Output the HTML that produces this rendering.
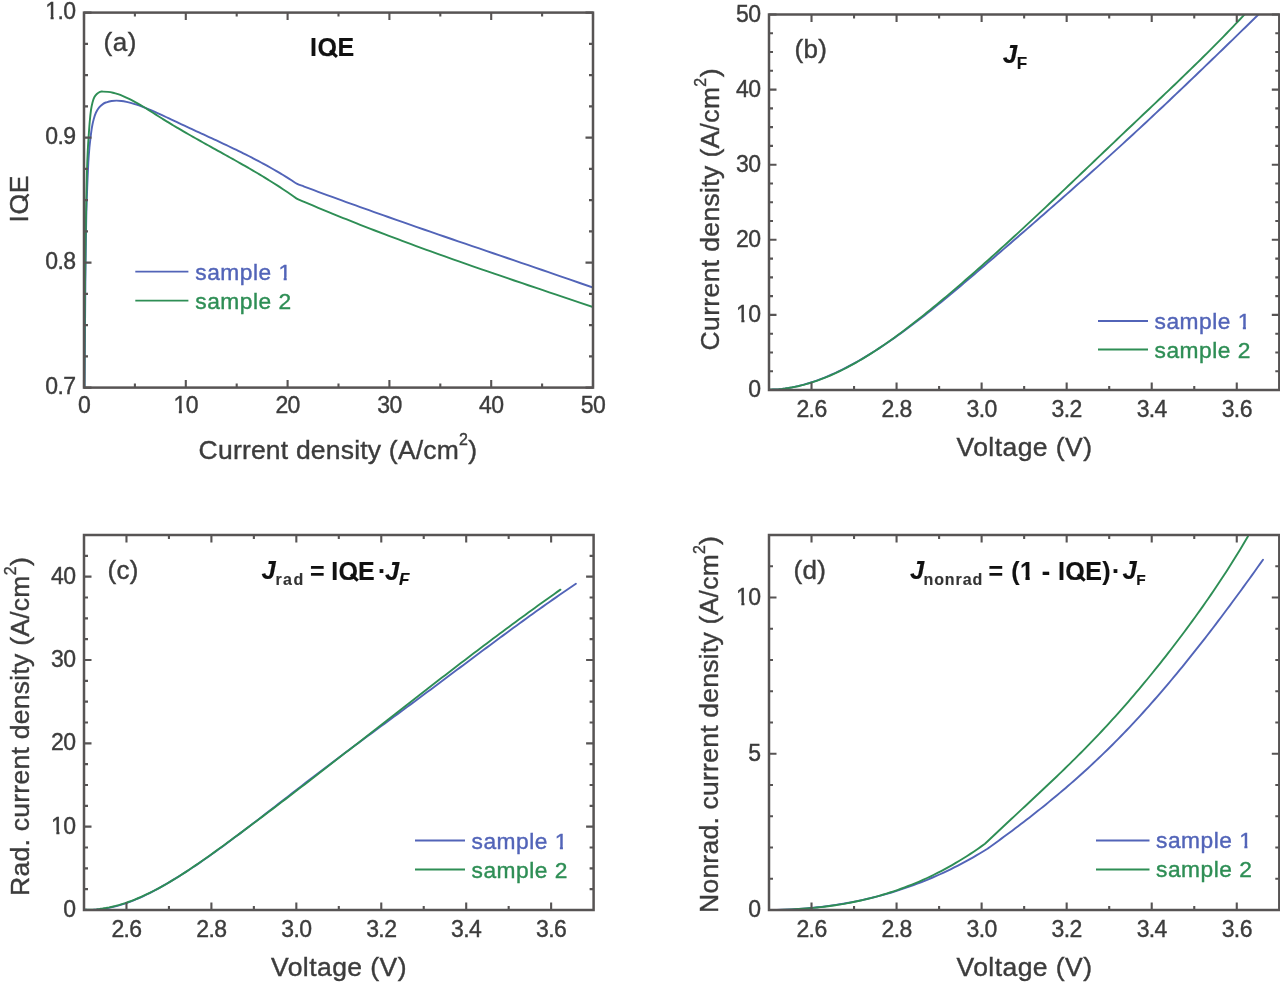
<!DOCTYPE html>
<html><head><meta charset="utf-8"><title>IQE plots</title>
<style>
html,body{margin:0;padding:0;background:#fff;overflow:hidden;}
svg{display:block;filter:blur(0.45px);}
text{font-family:"Liberation Sans", sans-serif;}
</style></head><body>
<svg width="1280" height="986" viewBox="0 0 1280 986">
<defs><clipPath id="clipA"><rect x="84.00" y="12.60" width="509.00" height="375.00"/></clipPath><clipPath id="clipB"><rect x="769.00" y="14.50" width="510.30" height="375.50"/></clipPath><clipPath id="clipC"><rect x="84.00" y="535.00" width="509.60" height="375.00"/></clipPath><clipPath id="clipD"><rect x="769.00" y="535.00" width="510.30" height="375.00"/></clipPath></defs>
<g clip-path="url(#clipA)">
<path d="M84.60,388.00 C84.67,378.33 84.87,348.00 85.00,330.00 C85.13,312.00 85.25,295.00 85.40,280.00 C85.55,265.00 85.73,251.33 85.90,240.00 C86.07,228.67 86.18,220.67 86.40,212.00 C86.62,203.33 86.88,196.17 87.20,188.00 C87.52,179.83 87.93,169.67 88.30,163.00 C88.67,156.33 89.02,152.32 89.40,148.00 C89.78,143.68 90.17,140.60 90.60,137.10 C91.03,133.60 91.48,129.98 92.00,127.00 C92.52,124.02 93.03,121.62 93.70,119.20 C94.37,116.78 95.08,114.47 96.00,112.50 C96.92,110.53 97.95,108.88 99.20,107.40 C100.45,105.92 102.28,104.45 103.50,103.60 C104.72,102.75 105.17,102.73 106.50,102.30 C107.83,101.86 109.83,101.28 111.50,101.00 C113.17,100.72 114.83,100.63 116.50,100.62 C118.17,100.62 119.83,100.77 121.50,100.99 C123.17,101.20 124.83,101.53 126.50,101.90 C128.17,102.26 129.83,102.70 131.50,103.16 C133.17,103.63 134.83,104.14 136.50,104.68 C138.17,105.23 139.83,105.81 141.50,106.42 C143.17,107.03 144.83,107.67 146.50,108.34 C148.17,109.01 149.83,109.70 151.50,110.41 C153.17,111.13 154.83,111.86 156.50,112.61 C158.17,113.36 159.83,114.13 161.50,114.90 C163.17,115.67 164.83,116.46 166.50,117.24 C168.17,118.03 169.83,118.83 171.50,119.62 C173.17,120.41 174.83,121.20 176.50,121.98 C178.17,122.77 179.83,123.55 181.50,124.33 C183.17,125.11 184.83,125.88 186.50,126.65 C188.17,127.43 189.83,128.20 191.50,128.96 C193.17,129.73 194.83,130.50 196.50,131.27 C198.17,132.03 199.83,132.80 201.50,133.56 C203.17,134.33 204.83,135.09 206.50,135.86 C208.17,136.63 209.83,137.40 211.50,138.17 C213.17,138.94 214.83,139.71 216.50,140.48 C218.17,141.26 219.83,142.04 221.50,142.82 C223.17,143.60 224.83,144.38 226.50,145.17 C228.17,145.96 229.83,146.76 231.50,147.56 C233.17,148.36 234.83,149.16 236.50,149.97 C238.17,150.78 239.83,151.60 241.50,152.43 C243.17,153.25 244.83,154.08 246.50,154.92 C248.17,155.77 249.83,156.61 251.50,157.47 C253.17,158.33 254.83,159.19 256.50,160.07 C258.17,160.95 259.83,161.83 261.50,162.73 C263.17,163.63 264.83,164.53 266.50,165.45 C268.17,166.37 269.83,167.30 271.50,168.25 C273.17,169.19 274.83,170.15 276.50,171.12 C278.17,172.08 279.83,173.07 281.50,174.06 C283.17,175.06 284.83,176.07 286.50,177.10 C288.17,178.12 289.72,179.09 291.50,180.22 C293.28,181.36 295.08,182.85 297.20,183.90 C299.32,184.95 300.70,185.23 304.20,186.54 C307.70,187.85 313.53,190.04 318.20,191.77 C322.87,193.50 327.53,195.22 332.20,196.93 C336.87,198.64 341.53,200.34 346.20,202.03 C350.87,203.72 355.53,205.40 360.20,207.07 C364.87,208.75 369.53,210.41 374.20,212.07 C378.87,213.73 383.53,215.38 388.20,217.02 C392.87,218.67 397.53,220.30 402.20,221.93 C406.87,223.56 411.53,225.19 416.20,226.81 C420.87,228.43 425.53,230.05 430.20,231.66 C434.87,233.27 439.53,234.88 444.20,236.48 C448.87,238.09 453.53,239.69 458.20,241.29 C462.87,242.89 467.53,244.48 472.20,246.08 C476.87,247.67 481.53,249.27 486.20,250.86 C490.87,252.45 495.53,254.05 500.20,255.64 C504.87,257.23 509.53,258.83 514.20,260.42 C518.87,262.02 523.53,263.61 528.20,265.21 C532.87,266.81 537.53,268.41 542.20,270.01 C546.87,271.61 551.53,273.22 556.20,274.83 C560.87,276.44 564.07,277.54 570.20,279.67 C576.33,281.80 589.20,286.29 593.00,287.62" stroke="#5264b8" stroke-width="1.9" fill="none" stroke-linejoin="round"/>
<path d="M84.30,388.00 C84.37,378.33 84.57,348.00 84.70,330.00 C84.83,312.00 84.95,295.00 85.10,280.00 C85.25,265.00 85.40,253.33 85.60,240.00 C85.80,226.67 86.07,211.67 86.30,200.00 C86.53,188.33 86.75,178.33 87.00,170.00 C87.25,161.67 87.53,155.50 87.80,150.00 C88.07,144.50 88.28,141.67 88.60,137.00 C88.92,132.33 89.30,126.50 89.70,122.00 C90.10,117.50 90.53,113.25 91.00,110.00 C91.47,106.75 91.95,104.62 92.50,102.50 C93.05,100.38 93.58,98.72 94.30,97.30 C95.02,95.88 95.85,94.92 96.80,94.00 C97.75,93.08 98.97,92.20 100.00,91.80 C101.03,91.40 101.67,91.59 103.00,91.59 C104.33,91.60 106.33,91.64 108.00,91.83 C109.67,92.02 111.33,92.33 113.00,92.72 C114.67,93.11 116.33,93.60 118.00,94.16 C119.67,94.71 121.33,95.36 123.00,96.05 C124.67,96.74 126.33,97.51 128.00,98.30 C129.67,99.10 131.33,99.96 133.00,100.84 C134.67,101.72 136.33,102.65 138.00,103.60 C139.67,104.56 141.33,105.55 143.00,106.55 C144.67,107.55 146.33,108.58 148.00,109.62 C149.67,110.66 151.33,111.72 153.00,112.77 C154.67,113.82 156.33,114.89 158.00,115.94 C159.67,117.00 161.33,118.05 163.00,119.09 C164.67,120.13 166.33,121.16 168.00,122.18 C169.67,123.20 171.33,124.21 173.00,125.21 C174.67,126.21 176.33,127.20 178.00,128.18 C179.67,129.17 181.33,130.14 183.00,131.11 C184.67,132.08 186.33,133.04 188.00,134.00 C189.67,134.96 191.33,135.91 193.00,136.86 C194.67,137.80 196.33,138.74 198.00,139.68 C199.67,140.62 201.33,141.55 203.00,142.48 C204.67,143.42 206.33,144.34 208.00,145.27 C209.67,146.20 211.33,147.12 213.00,148.05 C214.67,148.97 216.33,149.89 218.00,150.82 C219.67,151.74 221.33,152.67 223.00,153.59 C224.67,154.52 226.33,155.44 228.00,156.37 C229.67,157.30 231.33,158.23 233.00,159.17 C234.67,160.10 236.33,161.04 238.00,161.98 C239.67,162.92 241.33,163.87 243.00,164.82 C244.67,165.77 246.33,166.73 248.00,167.69 C249.67,168.65 251.33,169.62 253.00,170.60 C254.67,171.58 256.33,172.56 258.00,173.55 C259.67,174.54 261.33,175.54 263.00,176.55 C264.67,177.56 266.33,178.58 268.00,179.61 C269.67,180.64 271.33,181.68 273.00,182.73 C274.67,183.78 276.33,184.85 278.00,185.92 C279.67,187.00 281.33,188.08 283.00,189.18 C284.67,190.28 286.33,191.40 288.00,192.52 C289.67,193.65 291.47,194.89 293.00,195.95 C294.53,197.01 295.33,197.91 297.20,198.90 C299.07,199.89 300.70,200.42 304.20,201.90 C307.70,203.38 313.53,205.85 318.20,207.80 C322.87,209.75 327.53,211.67 332.20,213.58 C336.87,215.49 341.53,217.37 346.20,219.24 C350.87,221.11 355.53,222.96 360.20,224.80 C364.87,226.63 369.53,228.44 374.20,230.24 C378.87,232.05 383.53,233.83 388.20,235.60 C392.87,237.37 397.53,239.12 402.20,240.86 C406.87,242.60 411.53,244.32 416.20,246.04 C420.87,247.75 425.53,249.45 430.20,251.14 C434.87,252.83 439.53,254.50 444.20,256.17 C448.87,257.84 453.53,259.49 458.20,261.14 C462.87,262.78 467.53,264.42 472.20,266.05 C476.87,267.68 481.53,269.30 486.20,270.91 C490.87,272.52 495.53,274.12 500.20,275.72 C504.87,277.32 509.53,278.91 514.20,280.50 C518.87,282.09 523.53,283.67 528.20,285.25 C532.87,286.83 537.53,288.40 542.20,289.97 C546.87,291.54 551.53,293.11 556.20,294.68 C560.87,296.24 564.07,297.32 570.20,299.37 C576.33,301.43 589.20,305.74 593.00,307.01" stroke="#2e8e55" stroke-width="1.9" fill="none" stroke-linejoin="round"/>
</g>
<path d="M84.00,387.60v-7.50 M84.00,12.60v7.50 M185.80,387.60v-7.50 M185.80,12.60v7.50 M287.60,387.60v-7.50 M287.60,12.60v7.50 M389.40,387.60v-7.50 M389.40,12.60v7.50 M491.20,387.60v-7.50 M491.20,12.60v7.50 M593.00,387.60v-7.50 M593.00,12.60v7.50 M134.90,387.60v-4.00 M134.90,12.60v4.00 M236.70,387.60v-4.00 M236.70,12.60v4.00 M338.50,387.60v-4.00 M338.50,12.60v4.00 M440.30,387.60v-4.00 M440.30,12.60v4.00 M542.10,387.60v-4.00 M542.10,12.60v4.00 M84.00,387.60h7.50 M593.00,387.60h-7.50 M84.00,262.60h7.50 M593.00,262.60h-7.50 M84.00,137.60h7.50 M593.00,137.60h-7.50 M84.00,12.60h7.50 M593.00,12.60h-7.50 M84.00,356.35h4.00 M593.00,356.35h-4.00 M84.00,325.10h4.00 M593.00,325.10h-4.00 M84.00,293.85h4.00 M593.00,293.85h-4.00 M84.00,231.35h4.00 M593.00,231.35h-4.00 M84.00,200.10h4.00 M593.00,200.10h-4.00 M84.00,168.85h4.00 M593.00,168.85h-4.00 M84.00,106.35h4.00 M593.00,106.35h-4.00 M84.00,75.10h4.00 M593.00,75.10h-4.00 M84.00,43.85h4.00 M593.00,43.85h-4.00" stroke="#575454" stroke-width="2.1" fill="none"/>
<rect x="84.00" y="12.60" width="509.00" height="375.00" stroke="#575454" stroke-width="2.50" fill="none"/>
<g transform="translate(84.00,412.50)"><text font-size="23.00" text-anchor="middle" letter-spacing="-0.60" fill="#3c3c3c" stroke="#3c3c3c" stroke-width="0.40">0</text></g>
<g transform="translate(185.80,412.50)"><text font-size="23.00" text-anchor="middle" letter-spacing="-0.60" fill="#3c3c3c" stroke="#3c3c3c" stroke-width="0.40">10</text><rect x="-11.64" y="-2.72" width="4.68" height="4.52" fill="#fff"/><rect x="-3.83" y="-2.72" width="4.50" height="4.52" fill="#fff"/></g>
<g transform="translate(287.60,412.50)"><text font-size="23.00" text-anchor="middle" letter-spacing="-0.60" fill="#3c3c3c" stroke="#3c3c3c" stroke-width="0.40">20</text></g>
<g transform="translate(389.40,412.50)"><text font-size="23.00" text-anchor="middle" letter-spacing="-0.60" fill="#3c3c3c" stroke="#3c3c3c" stroke-width="0.40">30</text></g>
<g transform="translate(491.20,412.50)"><text font-size="23.00" text-anchor="middle" letter-spacing="-0.60" fill="#3c3c3c" stroke="#3c3c3c" stroke-width="0.40">40</text></g>
<g transform="translate(593.00,412.50)"><text font-size="23.00" text-anchor="middle" letter-spacing="-0.60" fill="#3c3c3c" stroke="#3c3c3c" stroke-width="0.40">50</text></g>
<g transform="translate(75.50,393.80)"><text font-size="23.00" text-anchor="end" letter-spacing="-0.60" fill="#3c3c3c" stroke="#3c3c3c" stroke-width="0.40">0.7</text></g>
<g transform="translate(75.50,268.80)"><text font-size="23.00" text-anchor="end" letter-spacing="-0.60" fill="#3c3c3c" stroke="#3c3c3c" stroke-width="0.40">0.8</text></g>
<g transform="translate(75.50,143.80)"><text font-size="23.00" text-anchor="end" letter-spacing="-0.60" fill="#3c3c3c" stroke="#3c3c3c" stroke-width="0.40">0.9</text></g>
<g transform="translate(75.50,18.80)"><text font-size="23.00" text-anchor="end" letter-spacing="-0.60" fill="#3c3c3c" stroke="#3c3c3c" stroke-width="0.40">1.0</text><rect x="-29.64" y="-2.72" width="4.68" height="4.52" fill="#fff"/><rect x="-21.82" y="-2.72" width="4.50" height="4.52" fill="#fff"/></g>
<g transform="translate(337.90,458.50)"><text font-size="26.50" text-anchor="middle" letter-spacing="0.20" fill="#3c3c3c" stroke="#3c3c3c" stroke-width="0.40">Current density (A/cm<tspan font-size="16" dy="-13.5">2</tspan><tspan dy="13.5">)</tspan></text></g>
<g transform="translate(27.80,198.70) rotate(-90)"><text font-size="26.50" text-anchor="middle" letter-spacing="0.60" fill="#3c3c3c" stroke="#3c3c3c" stroke-width="0.40">IQE</text><rect x="-8.53" y="0.23" width="11.65" height="5.95" fill="#fff"/><path d="M-1.99,-5.17L4.50,0.79" stroke="#3c3c3c" stroke-width="2.25"/></g>
<g transform="translate(103.50,50.70)"><text font-size="26.00" letter-spacing="0.60" fill="#3c3c3c" stroke="#3c3c3c" stroke-width="0.40">(a)</text></g>
<g transform="translate(310.00,56.00)"><text font-size="25.00" font-weight="bold" letter-spacing="0.60" fill="#111" stroke="#111" stroke-width="0.15">IQE</text><rect x="14.37" y="0.22" width="10.99" height="5.62" fill="#fff"/><path d="M20.03,-5.38L26.91,0.88" stroke="#111" stroke-width="3.12"/></g>
<path d="M135.3,271.6H188.4" stroke="#5264b8" stroke-width="1.9"/>
<path d="M135.3,300.6H188.4" stroke="#2e8e55" stroke-width="1.9"/>
<g transform="translate(195.30,279.60)"><text font-size="22.75" letter-spacing="0.50" fill="#5264b8" stroke="#5264b8" stroke-width="0.40">sample 1</text><rect x="83.69" y="-2.70" width="4.64" height="4.50" fill="#fff"/><rect x="91.44" y="-2.70" width="4.46" height="4.50" fill="#fff"/></g>
<g transform="translate(195.30,308.60)"><text font-size="22.75" letter-spacing="0.50" fill="#2e8e55" stroke="#2e8e55" stroke-width="0.40">sample 2</text></g>
<g clip-path="url(#clipB)">
<path d="M769.00,389.60 L772.31,389.55 L775.62,389.40 L778.93,389.16 L782.23,388.84 L785.54,388.42 L788.85,387.92 L792.16,387.34 L795.47,386.67 L798.78,385.93 L802.09,385.10 L805.40,384.20 L808.70,383.23 L812.01,382.18 L815.32,381.07 L818.63,379.88 L821.94,378.63 L825.25,377.31 L828.56,375.93 L831.87,374.49 L835.17,372.99 L838.48,371.43 L841.79,369.82 L845.10,368.15 L848.41,366.43 L851.72,364.66 L855.03,362.84 L858.34,360.97 L861.64,359.06 L864.95,357.10 L868.26,355.10 L871.57,353.05 L874.88,350.96 L878.19,348.83 L881.50,346.67 L884.81,344.46 L888.11,342.21 L891.42,339.93 L894.73,337.62 L898.04,335.27 L901.35,332.89 L904.66,330.47 L907.97,328.03 L911.28,325.55 L914.58,323.05 L917.89,320.52 L921.20,317.96 L924.51,315.38 L927.82,312.78 L931.13,310.15 L934.44,307.50 L937.74,304.83 L941.05,302.14 L944.36,299.43 L947.67,296.71 L950.98,293.97 L954.29,291.22 L957.60,288.45 L960.91,285.67 L964.21,282.88 L967.52,280.07 L970.83,277.26 L974.14,274.44 L977.45,271.62 L980.76,268.79 L984.07,265.95 L987.38,263.11 L990.68,260.27 L993.99,257.43 L997.30,254.58 L1000.61,251.73 L1003.92,248.88 L1007.23,246.03 L1010.54,243.18 L1013.85,240.32 L1017.15,237.46 L1020.46,234.59 L1023.77,231.73 L1027.08,228.86 L1030.39,225.98 L1033.70,223.11 L1037.01,220.23 L1040.32,217.34 L1043.62,214.45 L1046.93,211.56 L1050.24,208.66 L1053.55,205.76 L1056.86,202.86 L1060.17,199.95 L1063.48,197.03 L1066.79,194.11 L1070.09,191.19 L1073.40,188.26 L1076.71,185.32 L1080.02,182.38 L1083.33,179.43 L1086.64,176.48 L1089.95,173.52 L1093.26,170.56 L1096.56,167.59 L1099.87,164.61 L1103.18,161.63 L1106.49,158.64 L1109.80,155.64 L1113.11,152.63 L1116.42,149.62 L1119.72,146.61 L1123.03,143.58 L1126.34,140.55 L1129.65,137.51 L1132.96,134.46 L1136.27,131.40 L1139.58,128.34 L1142.89,125.27 L1146.19,122.19 L1149.50,119.10 L1152.81,116.01 L1156.12,112.91 L1159.43,109.80 L1162.74,106.69 L1166.05,103.57 L1169.36,100.44 L1172.66,97.31 L1175.97,94.17 L1179.28,91.02 L1182.59,87.87 L1185.90,84.72 L1189.21,81.56 L1192.52,78.39 L1195.83,75.22 L1199.13,72.05 L1202.44,68.87 L1205.75,65.68 L1209.06,62.49 L1212.37,59.30 L1215.68,56.10 L1218.99,52.90 L1222.30,49.70 L1225.60,46.49 L1228.91,43.29 L1232.22,40.07 L1235.53,36.86 L1238.84,33.64 L1242.15,30.42 L1245.46,27.20 L1248.77,23.97 L1252.07,20.74 L1255.38,17.52 L1258.69,14.29 L1262.00,11.05" stroke="#5264b8" stroke-width="1.90" fill="none" stroke-linejoin="round" stroke-linecap="round"/>
<path d="M769.00,389.59 L772.22,389.53 L775.44,389.40 L778.66,389.18 L781.89,388.88 L785.11,388.50 L788.33,388.04 L791.55,387.50 L794.77,386.89 L797.99,386.21 L801.21,385.45 L804.44,384.62 L807.66,383.71 L810.88,382.74 L814.10,381.70 L817.32,380.60 L820.54,379.42 L823.77,378.19 L826.99,376.89 L830.21,375.53 L833.43,374.11 L836.65,372.63 L839.87,371.09 L843.09,369.50 L846.32,367.85 L849.54,366.15 L852.76,364.39 L855.98,362.59 L859.20,360.73 L862.42,358.83 L865.64,356.88 L868.87,354.88 L872.09,352.84 L875.31,350.75 L878.53,348.63 L881.75,346.46 L884.97,344.25 L888.19,342.01 L891.42,339.73 L894.64,337.41 L897.86,335.06 L901.08,332.68 L904.30,330.26 L907.52,327.82 L910.74,325.35 L913.97,322.84 L917.19,320.32 L920.41,317.76 L923.63,315.19 L926.85,312.59 L930.07,309.97 L933.30,307.33 L936.52,304.67 L939.74,302.00 L942.96,299.31 L946.18,296.61 L949.40,293.88 L952.62,291.15 L955.85,288.40 L959.07,285.64 L962.29,282.86 L965.51,280.07 L968.73,277.26 L971.95,274.45 L975.17,271.62 L978.40,268.77 L981.62,265.92 L984.84,263.06 L988.06,260.18 L991.28,257.29 L994.50,254.39 L997.72,251.49 L1000.95,248.57 L1004.17,245.64 L1007.39,242.70 L1010.61,239.76 L1013.83,236.80 L1017.05,233.84 L1020.28,230.87 L1023.50,227.89 L1026.72,224.90 L1029.94,221.90 L1033.16,218.90 L1036.38,215.90 L1039.60,212.88 L1042.83,209.86 L1046.05,206.84 L1049.27,203.81 L1052.49,200.77 L1055.71,197.73 L1058.93,194.69 L1062.15,191.64 L1065.38,188.59 L1068.60,185.53 L1071.82,182.47 L1075.04,179.41 L1078.26,176.35 L1081.48,173.28 L1084.70,170.21 L1087.93,167.14 L1091.15,164.07 L1094.37,161.00 L1097.59,157.93 L1100.81,154.86 L1104.03,151.78 L1107.26,148.71 L1110.48,145.64 L1113.70,142.57 L1116.92,139.50 L1120.14,136.43 L1123.36,133.37 L1126.58,130.31 L1129.81,127.25 L1133.03,124.19 L1136.25,121.14 L1139.47,118.08 L1142.69,115.03 L1145.91,111.99 L1149.13,108.94 L1152.36,105.89 L1155.58,102.84 L1158.80,99.79 L1162.02,96.73 L1165.24,93.67 L1168.46,90.60 L1171.68,87.53 L1174.91,84.45 L1178.13,81.36 L1181.35,78.27 L1184.57,75.16 L1187.79,72.05 L1191.01,68.92 L1194.23,65.78 L1197.46,62.62 L1200.68,59.46 L1203.90,56.27 L1207.12,53.07 L1210.34,49.86 L1213.56,46.62 L1216.79,43.37 L1220.01,40.10 L1223.23,36.80 L1226.45,33.49 L1229.67,30.15 L1232.89,26.79 L1236.11,23.41 L1239.34,20.00 L1242.56,16.56 L1245.78,13.10 L1249.00,9.61" stroke="#2e8e55" stroke-width="1.90" fill="none" stroke-linejoin="round" stroke-linecap="round"/>
</g>
<path d="M811.52,390.00v-7.50 M811.52,14.50v7.50 M896.57,390.00v-7.50 M896.57,14.50v7.50 M981.62,390.00v-7.50 M981.62,14.50v7.50 M1066.67,390.00v-7.50 M1066.67,14.50v7.50 M1151.72,390.00v-7.50 M1151.72,14.50v7.50 M1236.77,390.00v-7.50 M1236.77,14.50v7.50 M854.05,390.00v-4.00 M854.05,14.50v4.00 M939.10,390.00v-4.00 M939.10,14.50v4.00 M1024.15,390.00v-4.00 M1024.15,14.50v4.00 M1109.20,390.00v-4.00 M1109.20,14.50v4.00 M1194.25,390.00v-4.00 M1194.25,14.50v4.00 M769.00,390.00h7.50 M1279.30,390.00h-7.50 M769.00,314.90h7.50 M1279.30,314.90h-7.50 M769.00,239.80h7.50 M1279.30,239.80h-7.50 M769.00,164.70h7.50 M1279.30,164.70h-7.50 M769.00,89.60h7.50 M1279.30,89.60h-7.50 M769.00,14.50h7.50 M1279.30,14.50h-7.50 M769.00,371.23h4.00 M1279.30,371.23h-4.00 M769.00,352.45h4.00 M1279.30,352.45h-4.00 M769.00,333.68h4.00 M1279.30,333.68h-4.00 M769.00,296.12h4.00 M1279.30,296.12h-4.00 M769.00,277.35h4.00 M1279.30,277.35h-4.00 M769.00,258.58h4.00 M1279.30,258.58h-4.00 M769.00,221.03h4.00 M1279.30,221.03h-4.00 M769.00,202.25h4.00 M1279.30,202.25h-4.00 M769.00,183.47h4.00 M1279.30,183.47h-4.00 M769.00,145.92h4.00 M1279.30,145.92h-4.00 M769.00,127.15h4.00 M1279.30,127.15h-4.00 M769.00,108.38h4.00 M1279.30,108.38h-4.00 M769.00,70.82h4.00 M1279.30,70.82h-4.00 M769.00,52.05h4.00 M1279.30,52.05h-4.00 M769.00,33.28h4.00 M1279.30,33.28h-4.00" stroke="#575454" stroke-width="2.1" fill="none"/>
<rect x="769.00" y="14.50" width="510.30" height="375.50" stroke="#575454" stroke-width="2.50" fill="none"/>
<g transform="translate(811.52,416.50)"><text font-size="23.00" text-anchor="middle" letter-spacing="-0.60" fill="#3c3c3c" stroke="#3c3c3c" stroke-width="0.40">2.6</text></g>
<g transform="translate(896.57,416.50)"><text font-size="23.00" text-anchor="middle" letter-spacing="-0.60" fill="#3c3c3c" stroke="#3c3c3c" stroke-width="0.40">2.8</text></g>
<g transform="translate(981.62,416.50)"><text font-size="23.00" text-anchor="middle" letter-spacing="-0.60" fill="#3c3c3c" stroke="#3c3c3c" stroke-width="0.40">3.0</text></g>
<g transform="translate(1066.67,416.50)"><text font-size="23.00" text-anchor="middle" letter-spacing="-0.60" fill="#3c3c3c" stroke="#3c3c3c" stroke-width="0.40">3.2</text></g>
<g transform="translate(1151.72,416.50)"><text font-size="23.00" text-anchor="middle" letter-spacing="-0.60" fill="#3c3c3c" stroke="#3c3c3c" stroke-width="0.40">3.4</text></g>
<g transform="translate(1236.77,416.50)"><text font-size="23.00" text-anchor="middle" letter-spacing="-0.60" fill="#3c3c3c" stroke="#3c3c3c" stroke-width="0.40">3.6</text></g>
<g transform="translate(760.50,397.00)"><text font-size="23.00" text-anchor="end" letter-spacing="-0.60" fill="#3c3c3c" stroke="#3c3c3c" stroke-width="0.40">0</text></g>
<g transform="translate(760.50,321.90)"><text font-size="23.00" text-anchor="end" letter-spacing="-0.60" fill="#3c3c3c" stroke="#3c3c3c" stroke-width="0.40">10</text><rect x="-23.84" y="-2.72" width="4.68" height="4.52" fill="#fff"/><rect x="-16.02" y="-2.72" width="4.50" height="4.52" fill="#fff"/></g>
<g transform="translate(760.50,246.80)"><text font-size="23.00" text-anchor="end" letter-spacing="-0.60" fill="#3c3c3c" stroke="#3c3c3c" stroke-width="0.40">20</text></g>
<g transform="translate(760.50,171.70)"><text font-size="23.00" text-anchor="end" letter-spacing="-0.60" fill="#3c3c3c" stroke="#3c3c3c" stroke-width="0.40">30</text></g>
<g transform="translate(760.50,96.60)"><text font-size="23.00" text-anchor="end" letter-spacing="-0.60" fill="#3c3c3c" stroke="#3c3c3c" stroke-width="0.40">40</text></g>
<g transform="translate(760.50,21.50)"><text font-size="23.00" text-anchor="end" letter-spacing="-0.60" fill="#3c3c3c" stroke="#3c3c3c" stroke-width="0.40">50</text></g>
<g transform="translate(1024.50,456.30)"><text font-size="26.50" text-anchor="middle" letter-spacing="0.45" fill="#3c3c3c" stroke="#3c3c3c" stroke-width="0.40">Voltage (V)</text></g>
<g transform="translate(719.30,209.30) rotate(-90)"><text font-size="26.50" text-anchor="middle" letter-spacing="0.36" fill="#3c3c3c" stroke="#3c3c3c" stroke-width="0.40">Current density (A/cm<tspan font-size="16" dy="-13.5">2</tspan><tspan dy="13.5">)</tspan></text></g>
<g transform="translate(794.50,57.80)"><text font-size="26.00" letter-spacing="0.30" fill="#3c3c3c" stroke="#3c3c3c" stroke-width="0.40">(b)</text></g>
<g transform="translate(1002.70,63.00)"><text font-size="26.00" font-weight="bold" font-style="italic" fill="#111" stroke="#111" stroke-width="0.15">J</text></g>
<g transform="translate(1016.80,68.60)"><text font-size="17.00" font-weight="bold" fill="#111" stroke="#111" stroke-width="0.15">F</text></g>
<path d="M1098,321H1148" stroke="#5264b8" stroke-width="1.9"/>
<path d="M1098,349.5H1148" stroke="#2e8e55" stroke-width="1.9"/>
<g transform="translate(1154.50,329.00)"><text font-size="22.75" letter-spacing="0.50" fill="#5264b8" stroke="#5264b8" stroke-width="0.40">sample 1</text><rect x="83.69" y="-2.70" width="4.64" height="4.50" fill="#fff"/><rect x="91.44" y="-2.70" width="4.46" height="4.50" fill="#fff"/></g>
<g transform="translate(1154.50,357.50)"><text font-size="22.75" letter-spacing="0.50" fill="#2e8e55" stroke="#2e8e55" stroke-width="0.40">sample 2</text></g>
<g clip-path="url(#clipC)">
<path d="M83.50,909.68 L86.80,909.82 L90.11,909.85 L93.41,909.76 L96.72,909.55 L100.02,909.24 L103.33,908.82 L106.63,908.29 L109.94,907.66 L113.24,906.93 L116.55,906.11 L119.85,905.18 L123.16,904.17 L126.46,903.06 L129.77,901.87 L133.07,900.59 L136.38,899.23 L139.68,897.79 L142.98,896.28 L146.29,894.70 L149.59,893.06 L152.90,891.36 L156.20,889.60 L159.51,887.80 L162.81,885.95 L166.12,884.06 L169.42,882.13 L172.73,880.15 L176.03,878.14 L179.34,876.09 L182.64,874.01 L185.95,871.89 L189.25,869.74 L192.56,867.55 L195.86,865.34 L199.16,863.10 L202.47,860.82 L205.77,858.53 L209.08,856.20 L212.38,853.85 L215.69,851.48 L218.99,849.09 L222.30,846.68 L225.60,844.25 L228.91,841.80 L232.21,839.34 L235.52,836.86 L238.82,834.37 L242.13,831.87 L245.43,829.35 L248.73,826.83 L252.04,824.30 L255.34,821.76 L258.65,819.22 L261.95,816.67 L265.26,814.11 L268.56,811.55 L271.87,808.99 L275.17,806.43 L278.48,803.86 L281.78,801.29 L285.09,798.73 L288.39,796.16 L291.70,793.59 L295.00,791.03 L298.31,788.47 L301.61,785.91 L304.91,783.36 L308.22,780.81 L311.52,778.27 L314.83,775.73 L318.13,773.20 L321.44,770.68 L324.74,768.17 L328.05,765.67 L331.35,763.17 L334.66,760.68 L337.96,758.19 L341.27,755.72 L344.57,753.24 L347.88,750.78 L351.18,748.32 L354.49,745.86 L357.79,743.40 L361.09,740.95 L364.40,738.51 L367.70,736.06 L371.01,733.62 L374.31,731.19 L377.62,728.75 L380.92,726.31 L384.23,723.88 L387.53,721.44 L390.84,719.01 L394.14,716.57 L397.45,714.14 L400.75,711.70 L404.06,709.26 L407.36,706.82 L410.67,704.38 L413.97,701.93 L417.27,699.48 L420.58,697.03 L423.88,694.57 L427.19,692.11 L430.49,689.65 L433.80,687.18 L437.10,684.71 L440.41,682.24 L443.71,679.76 L447.02,677.29 L450.32,674.81 L453.63,672.34 L456.93,669.86 L460.24,667.38 L463.54,664.91 L466.84,662.43 L470.15,659.96 L473.45,657.48 L476.76,655.01 L480.06,652.55 L483.37,650.08 L486.67,647.62 L489.98,645.16 L493.28,642.71 L496.59,640.26 L499.89,637.81 L503.20,635.37 L506.50,632.94 L509.81,630.51 L513.11,628.09 L516.42,625.67 L519.72,623.26 L523.02,620.86 L526.33,618.47 L529.63,616.09 L532.94,613.71 L536.24,611.34 L539.55,608.98 L542.85,606.64 L546.16,604.30 L549.46,601.97 L552.77,599.65 L556.07,597.35 L559.38,595.06 L562.68,592.77 L565.99,590.50 L569.29,588.25 L572.60,586.01 L575.90,583.78" stroke="#5264b8" stroke-width="1.90" fill="none" stroke-linejoin="round" stroke-linecap="round"/>
<path d="M83.50,909.74 L86.70,909.79 L89.90,909.73 L93.10,909.58 L96.30,909.33 L99.50,908.99 L102.70,908.55 L105.90,908.02 L109.11,907.41 L112.31,906.70 L115.51,905.92 L118.71,905.05 L121.91,904.10 L125.11,903.08 L128.31,901.98 L131.51,900.81 L134.71,899.56 L137.91,898.25 L141.11,896.87 L144.31,895.43 L147.51,893.93 L150.71,892.36 L153.91,890.74 L157.12,889.06 L160.32,887.33 L163.52,885.55 L166.72,883.72 L169.92,881.85 L173.12,879.92 L176.32,877.96 L179.52,875.96 L182.72,873.91 L185.92,871.84 L189.12,869.72 L192.32,867.58 L195.52,865.41 L198.72,863.21 L201.92,860.99 L205.13,858.74 L208.33,856.47 L211.53,854.19 L214.73,851.89 L217.93,849.57 L221.13,847.25 L224.33,844.91 L227.53,842.57 L230.73,840.22 L233.93,837.86 L237.13,835.50 L240.33,833.13 L243.53,830.75 L246.73,828.37 L249.93,825.98 L253.14,823.59 L256.34,821.19 L259.54,818.79 L262.74,816.38 L265.94,813.96 L269.14,811.55 L272.34,809.12 L275.54,806.69 L278.74,804.26 L281.94,801.82 L285.14,799.38 L288.34,796.93 L291.54,794.48 L294.74,792.03 L297.94,789.57 L301.15,787.11 L304.35,784.65 L307.55,782.18 L310.75,779.71 L313.95,777.24 L317.15,774.76 L320.35,772.28 L323.55,769.80 L326.75,767.32 L329.95,764.83 L333.15,762.34 L336.35,759.85 L339.55,757.36 L342.75,754.87 L345.96,752.37 L349.16,749.88 L352.36,747.38 L355.56,744.88 L358.76,742.38 L361.96,739.89 L365.16,737.39 L368.36,734.88 L371.56,732.38 L374.76,729.88 L377.96,727.38 L381.16,724.88 L384.36,722.38 L387.56,719.88 L390.76,717.38 L393.97,714.88 L397.17,712.39 L400.37,709.89 L403.57,707.39 L406.77,704.90 L409.97,702.41 L413.17,699.92 L416.37,697.43 L419.57,694.94 L422.77,692.45 L425.97,689.97 L429.17,687.49 L432.37,685.01 L435.57,682.54 L438.77,680.06 L441.98,677.59 L445.18,675.13 L448.38,672.66 L451.58,670.20 L454.78,667.75 L457.98,665.30 L461.18,662.85 L464.38,660.40 L467.58,657.96 L470.78,655.52 L473.98,653.09 L477.18,650.66 L480.38,648.24 L483.58,645.82 L486.78,643.41 L489.99,641.00 L493.19,638.60 L496.39,636.20 L499.59,633.81 L502.79,631.43 L505.99,629.05 L509.19,626.67 L512.39,624.30 L515.59,621.94 L518.79,619.59 L521.99,617.24 L525.19,614.90 L528.39,612.56 L531.59,610.23 L534.79,607.91 L538.00,605.60 L541.20,603.30 L544.40,601.00 L547.60,598.71 L550.80,596.42 L554.00,594.15 L557.20,591.88 L560.40,589.63" stroke="#2e8e55" stroke-width="1.90" fill="none" stroke-linejoin="round" stroke-linecap="round"/>
</g>
<path d="M126.47,910.00v-7.50 M126.47,535.00v7.50 M211.40,910.00v-7.50 M211.40,535.00v7.50 M296.33,910.00v-7.50 M296.33,535.00v7.50 M381.27,910.00v-7.50 M381.27,535.00v7.50 M466.20,910.00v-7.50 M466.20,535.00v7.50 M551.13,910.00v-7.50 M551.13,535.00v7.50 M168.93,910.00v-4.00 M168.93,535.00v4.00 M253.87,910.00v-4.00 M253.87,535.00v4.00 M338.80,910.00v-4.00 M338.80,535.00v4.00 M423.73,910.00v-4.00 M423.73,535.00v4.00 M508.67,910.00v-4.00 M508.67,535.00v4.00 M84.00,910.00h7.50 M593.60,910.00h-7.50 M84.00,826.67h7.50 M593.60,826.67h-7.50 M84.00,743.33h7.50 M593.60,743.33h-7.50 M84.00,660.00h7.50 M593.60,660.00h-7.50 M84.00,576.67h7.50 M593.60,576.67h-7.50 M84.00,889.17h4.00 M593.60,889.17h-4.00 M84.00,868.33h4.00 M593.60,868.33h-4.00 M84.00,847.50h4.00 M593.60,847.50h-4.00 M84.00,805.83h4.00 M593.60,805.83h-4.00 M84.00,785.00h4.00 M593.60,785.00h-4.00 M84.00,764.17h4.00 M593.60,764.17h-4.00 M84.00,722.50h4.00 M593.60,722.50h-4.00 M84.00,701.67h4.00 M593.60,701.67h-4.00 M84.00,680.83h4.00 M593.60,680.83h-4.00 M84.00,639.17h4.00 M593.60,639.17h-4.00 M84.00,618.33h4.00 M593.60,618.33h-4.00 M84.00,597.50h4.00 M593.60,597.50h-4.00 M84.00,555.83h4.00 M593.60,555.83h-4.00" stroke="#575454" stroke-width="2.1" fill="none"/>
<rect x="84.00" y="535.00" width="509.60" height="375.00" stroke="#575454" stroke-width="2.50" fill="none"/>
<g transform="translate(126.47,936.50)"><text font-size="23.00" text-anchor="middle" letter-spacing="-0.60" fill="#3c3c3c" stroke="#3c3c3c" stroke-width="0.40">2.6</text></g>
<g transform="translate(211.40,936.50)"><text font-size="23.00" text-anchor="middle" letter-spacing="-0.60" fill="#3c3c3c" stroke="#3c3c3c" stroke-width="0.40">2.8</text></g>
<g transform="translate(296.33,936.50)"><text font-size="23.00" text-anchor="middle" letter-spacing="-0.60" fill="#3c3c3c" stroke="#3c3c3c" stroke-width="0.40">3.0</text></g>
<g transform="translate(381.27,936.50)"><text font-size="23.00" text-anchor="middle" letter-spacing="-0.60" fill="#3c3c3c" stroke="#3c3c3c" stroke-width="0.40">3.2</text></g>
<g transform="translate(466.20,936.50)"><text font-size="23.00" text-anchor="middle" letter-spacing="-0.60" fill="#3c3c3c" stroke="#3c3c3c" stroke-width="0.40">3.4</text></g>
<g transform="translate(551.13,936.50)"><text font-size="23.00" text-anchor="middle" letter-spacing="-0.60" fill="#3c3c3c" stroke="#3c3c3c" stroke-width="0.40">3.6</text></g>
<g transform="translate(75.50,917.00)"><text font-size="23.00" text-anchor="end" letter-spacing="-0.60" fill="#3c3c3c" stroke="#3c3c3c" stroke-width="0.40">0</text></g>
<g transform="translate(75.50,833.67)"><text font-size="23.00" text-anchor="end" letter-spacing="-0.60" fill="#3c3c3c" stroke="#3c3c3c" stroke-width="0.40">10</text><rect x="-23.84" y="-2.72" width="4.68" height="4.52" fill="#fff"/><rect x="-16.02" y="-2.72" width="4.50" height="4.52" fill="#fff"/></g>
<g transform="translate(75.50,750.33)"><text font-size="23.00" text-anchor="end" letter-spacing="-0.60" fill="#3c3c3c" stroke="#3c3c3c" stroke-width="0.40">20</text></g>
<g transform="translate(75.50,667.00)"><text font-size="23.00" text-anchor="end" letter-spacing="-0.60" fill="#3c3c3c" stroke="#3c3c3c" stroke-width="0.40">30</text></g>
<g transform="translate(75.50,583.67)"><text font-size="23.00" text-anchor="end" letter-spacing="-0.60" fill="#3c3c3c" stroke="#3c3c3c" stroke-width="0.40">40</text></g>
<g transform="translate(339.00,976.30)"><text font-size="26.50" text-anchor="middle" letter-spacing="0.45" fill="#3c3c3c" stroke="#3c3c3c" stroke-width="0.40">Voltage (V)</text></g>
<g transform="translate(29.00,726.50) rotate(-90)"><text font-size="26.50" text-anchor="middle" letter-spacing="0.27" fill="#3c3c3c" stroke="#3c3c3c" stroke-width="0.40">Rad. current density (A/cm<tspan font-size="16" dy="-13.5">2</tspan><tspan dy="13.5">)</tspan></text></g>
<g transform="translate(107.50,579.20)"><text font-size="26.00" letter-spacing="0.30" fill="#3c3c3c" stroke="#3c3c3c" stroke-width="0.40">(c)</text></g>
<g transform="translate(261.50,579.40)"><text font-size="25.50" font-weight="bold" font-style="italic" fill="#111" stroke="#111" stroke-width="0.15">J</text></g>
<g transform="translate(275.40,584.80)"><text font-size="16.00" font-weight="bold" letter-spacing="1.45" fill="#333" stroke="#333" stroke-width="0.15">rad</text></g>
<g transform="translate(310.00,579.70)"><text font-size="25.00" font-weight="bold" fill="#111" stroke="#111" stroke-width="0.15">=</text></g>
<g transform="translate(331.30,579.70)"><text font-size="25.00" font-weight="bold" letter-spacing="0.20" fill="#111" stroke="#111" stroke-width="0.15">IQE</text><rect x="13.98" y="0.22" width="10.99" height="5.62" fill="#fff"/><path d="M19.64,-5.38L26.52,0.88" stroke="#111" stroke-width="3.12"/></g>
<g transform="translate(377.90,579.50)"><text font-size="25.00" font-weight="bold" fill="#111" stroke="#111" stroke-width="0.15">·</text></g>
<g transform="translate(385.00,579.70)"><text font-size="25.50" font-weight="bold" font-style="italic" fill="#111" stroke="#111" stroke-width="0.15">J</text></g>
<g transform="translate(399.00,585.20)"><text font-size="17.00" font-weight="bold" font-style="italic" fill="#111" stroke="#111" stroke-width="0.15">F</text></g>
<path d="M415,840.5H465" stroke="#5264b8" stroke-width="1.9"/>
<path d="M415,869.5H465" stroke="#2e8e55" stroke-width="1.9"/>
<g transform="translate(471.50,848.50)"><text font-size="22.75" letter-spacing="0.50" fill="#5264b8" stroke="#5264b8" stroke-width="0.40">sample 1</text><rect x="83.69" y="-2.70" width="4.64" height="4.50" fill="#fff"/><rect x="91.44" y="-2.70" width="4.46" height="4.50" fill="#fff"/></g>
<g transform="translate(471.50,877.50)"><text font-size="22.75" letter-spacing="0.50" fill="#2e8e55" stroke="#2e8e55" stroke-width="0.40">sample 2</text></g>
<g clip-path="url(#clipD)">
<path d="M769.50,910.00 L773.19,909.95 L776.89,909.88 L780.58,909.78 L784.28,909.66 L787.97,909.51 L791.67,909.33 L795.36,909.12 L799.06,908.89 L802.75,908.62 L806.45,908.33 L810.14,908.01 L813.84,907.65 L817.53,907.27 L821.23,906.86 L824.92,906.41 L828.62,905.93 L832.31,905.42 L836.01,904.88 L839.70,904.30 L843.40,903.69 L847.09,903.05 L850.79,902.37 L854.48,901.66 L858.18,900.91 L861.87,900.12 L865.57,899.30 L869.26,898.44 L872.96,897.54 L876.65,896.61 L880.35,895.64 L884.04,894.62 L887.74,893.57 L891.43,892.48 L895.13,891.35 L898.82,890.18 L902.52,888.97 L906.21,887.72 L909.91,886.42 L913.60,885.09 L917.30,883.71 L920.99,882.28 L924.69,880.82 L928.38,879.30 L932.08,877.75 L935.77,876.15 L939.47,874.50 L943.16,872.81 L946.86,871.07 L950.55,869.29 L954.25,867.45 L957.94,865.57 L961.64,863.64 L965.33,861.66 L969.03,859.64 L972.72,857.56 L976.42,855.43 L980.11,853.26 L983.81,851.03 L987.50,848.75 L990.28,846.74 L993.07,844.73 L995.85,842.71 L998.63,840.68 L1001.41,838.64 L1004.20,836.60 L1006.98,834.54 L1009.76,832.47 L1012.55,830.39 L1015.33,828.29 L1018.11,826.19 L1020.89,824.07 L1023.68,821.94 L1026.46,819.80 L1029.24,817.64 L1032.03,815.47 L1034.81,813.28 L1037.59,811.08 L1040.37,808.87 L1043.16,806.64 L1045.94,804.39 L1048.72,802.12 L1051.51,799.84 L1054.29,797.54 L1057.07,795.22 L1059.85,792.89 L1062.64,790.53 L1065.42,788.16 L1068.20,785.77 L1070.98,783.35 L1073.77,780.92 L1076.55,778.47 L1079.33,775.99 L1082.12,773.49 L1084.90,770.97 L1087.68,768.43 L1090.46,765.87 L1093.25,763.28 L1096.03,760.67 L1098.81,758.03 L1101.60,755.37 L1104.38,752.68 L1107.16,749.97 L1109.94,747.23 L1112.73,744.47 L1115.51,741.68 L1118.29,738.86 L1121.08,736.02 L1123.86,733.14 L1126.64,730.24 L1129.42,727.31 L1132.21,724.36 L1134.99,721.37 L1137.77,718.36 L1140.56,715.33 L1143.34,712.26 L1146.12,709.17 L1148.90,706.06 L1151.69,702.92 L1154.47,699.75 L1157.25,696.56 L1160.04,693.35 L1162.82,690.11 L1165.60,686.84 L1168.38,683.56 L1171.17,680.25 L1173.95,676.91 L1176.73,673.56 L1179.52,670.18 L1182.30,666.78 L1185.08,663.35 L1187.86,659.91 L1190.65,656.44 L1193.43,652.95 L1196.21,649.44 L1198.99,645.91 L1201.78,642.37 L1204.56,638.80 L1207.34,635.21 L1210.13,631.60 L1212.91,627.97 L1215.69,624.32 L1218.47,620.66 L1221.26,616.98 L1224.04,613.27 L1226.82,609.55 L1229.61,605.82 L1232.39,602.06 L1235.17,598.29 L1237.95,594.51 L1240.74,590.70 L1243.52,586.88 L1246.30,583.05 L1249.09,579.20 L1251.87,575.33 L1254.65,571.45 L1257.43,567.56 L1260.22,563.65 L1263.00,559.73" stroke="#5264b8" stroke-width="1.90" fill="none" stroke-linejoin="round" stroke-linecap="round"/>
<path d="M769.50,909.99 L773.15,909.96 L776.81,909.91 L780.46,909.83 L784.11,909.73 L787.76,909.60 L791.42,909.44 L795.07,909.26 L798.72,909.05 L802.37,908.81 L806.03,908.54 L809.68,908.24 L813.33,907.91 L816.98,907.55 L820.64,907.16 L824.29,906.73 L827.94,906.27 L831.59,905.77 L835.25,905.24 L838.90,904.67 L842.55,904.07 L846.20,903.42 L849.86,902.74 L853.51,902.02 L857.16,901.26 L860.81,900.46 L864.47,899.62 L868.12,898.73 L871.77,897.81 L875.42,896.83 L879.08,895.82 L882.73,894.76 L886.38,893.65 L890.03,892.50 L893.69,891.30 L897.34,890.05 L900.99,888.75 L904.64,887.41 L908.30,886.01 L911.95,884.56 L915.60,883.06 L919.25,881.51 L922.91,879.91 L926.56,878.25 L930.21,876.53 L933.86,874.76 L937.52,872.94 L941.17,871.05 L944.82,869.11 L948.47,867.12 L952.13,865.06 L955.78,862.94 L959.43,860.76 L963.08,858.52 L966.74,856.22 L970.39,853.85 L974.04,851.42 L977.69,848.93 L981.35,846.37 L985.00,843.75 L987.66,841.22 L990.31,838.71 L992.97,836.20 L995.63,833.70 L998.28,831.21 L1000.94,828.72 L1003.60,826.24 L1006.25,823.76 L1008.91,821.28 L1011.57,818.81 L1014.22,816.34 L1016.88,813.87 L1019.54,811.40 L1022.19,808.93 L1024.85,806.45 L1027.51,803.98 L1030.16,801.51 L1032.82,799.03 L1035.47,796.54 L1038.13,794.05 L1040.79,791.56 L1043.44,789.06 L1046.10,786.55 L1048.76,784.04 L1051.41,781.52 L1054.07,778.98 L1056.73,776.44 L1059.38,773.89 L1062.04,771.32 L1064.70,768.75 L1067.35,766.16 L1070.01,763.56 L1072.67,760.94 L1075.32,758.31 L1077.98,755.66 L1080.64,753.00 L1083.29,750.31 L1085.95,747.62 L1088.61,744.90 L1091.26,742.16 L1093.92,739.40 L1096.58,736.62 L1099.23,733.82 L1101.89,731.00 L1104.55,728.15 L1107.20,725.29 L1109.86,722.40 L1112.52,719.48 L1115.17,716.55 L1117.83,713.59 L1120.48,710.60 L1123.14,707.60 L1125.80,704.57 L1128.45,701.52 L1131.11,698.44 L1133.77,695.34 L1136.42,692.22 L1139.08,689.07 L1141.74,685.91 L1144.39,682.71 L1147.05,679.50 L1149.71,676.26 L1152.36,672.99 L1155.02,669.71 L1157.68,666.39 L1160.33,663.06 L1162.99,659.70 L1165.65,656.32 L1168.30,652.91 L1170.96,649.48 L1173.62,646.02 L1176.27,642.54 L1178.93,639.04 L1181.59,635.51 L1184.24,631.95 L1186.90,628.38 L1189.56,624.77 L1192.21,621.14 L1194.87,617.49 L1197.53,613.80 L1200.18,610.08 L1202.84,606.33 L1205.49,602.55 L1208.15,598.73 L1210.81,594.88 L1213.46,590.98 L1216.12,587.05 L1218.78,583.08 L1221.43,579.06 L1224.09,575.00 L1226.75,570.90 L1229.40,566.74 L1232.06,562.54 L1234.72,558.29 L1237.37,553.99 L1240.03,549.64 L1242.69,545.23 L1245.34,540.77 L1248.00,536.25" stroke="#2e8e55" stroke-width="1.90" fill="none" stroke-linejoin="round" stroke-linecap="round"/>
</g>
<path d="M811.52,910.00v-7.50 M811.52,535.00v7.50 M896.57,910.00v-7.50 M896.57,535.00v7.50 M981.62,910.00v-7.50 M981.62,535.00v7.50 M1066.67,910.00v-7.50 M1066.67,535.00v7.50 M1151.72,910.00v-7.50 M1151.72,535.00v7.50 M1236.77,910.00v-7.50 M1236.77,535.00v7.50 M854.05,910.00v-4.00 M854.05,535.00v4.00 M939.10,910.00v-4.00 M939.10,535.00v4.00 M1024.15,910.00v-4.00 M1024.15,535.00v4.00 M1109.20,910.00v-4.00 M1109.20,535.00v4.00 M1194.25,910.00v-4.00 M1194.25,535.00v4.00 M769.00,910.00h7.50 M1279.30,910.00h-7.50 M769.00,753.75h7.50 M1279.30,753.75h-7.50 M769.00,597.50h7.50 M1279.30,597.50h-7.50 M769.00,878.75h4.00 M1279.30,878.75h-4.00 M769.00,847.50h4.00 M1279.30,847.50h-4.00 M769.00,816.25h4.00 M1279.30,816.25h-4.00 M769.00,785.00h4.00 M1279.30,785.00h-4.00 M769.00,722.50h4.00 M1279.30,722.50h-4.00 M769.00,691.25h4.00 M1279.30,691.25h-4.00 M769.00,660.00h4.00 M1279.30,660.00h-4.00 M769.00,628.75h4.00 M1279.30,628.75h-4.00 M769.00,566.25h4.00 M1279.30,566.25h-4.00" stroke="#575454" stroke-width="2.1" fill="none"/>
<rect x="769.00" y="535.00" width="510.30" height="375.00" stroke="#575454" stroke-width="2.50" fill="none"/>
<g transform="translate(811.52,936.50)"><text font-size="23.00" text-anchor="middle" letter-spacing="-0.60" fill="#3c3c3c" stroke="#3c3c3c" stroke-width="0.40">2.6</text></g>
<g transform="translate(896.57,936.50)"><text font-size="23.00" text-anchor="middle" letter-spacing="-0.60" fill="#3c3c3c" stroke="#3c3c3c" stroke-width="0.40">2.8</text></g>
<g transform="translate(981.62,936.50)"><text font-size="23.00" text-anchor="middle" letter-spacing="-0.60" fill="#3c3c3c" stroke="#3c3c3c" stroke-width="0.40">3.0</text></g>
<g transform="translate(1066.67,936.50)"><text font-size="23.00" text-anchor="middle" letter-spacing="-0.60" fill="#3c3c3c" stroke="#3c3c3c" stroke-width="0.40">3.2</text></g>
<g transform="translate(1151.72,936.50)"><text font-size="23.00" text-anchor="middle" letter-spacing="-0.60" fill="#3c3c3c" stroke="#3c3c3c" stroke-width="0.40">3.4</text></g>
<g transform="translate(1236.77,936.50)"><text font-size="23.00" text-anchor="middle" letter-spacing="-0.60" fill="#3c3c3c" stroke="#3c3c3c" stroke-width="0.40">3.6</text></g>
<g transform="translate(760.50,917.00)"><text font-size="23.00" text-anchor="end" letter-spacing="-0.60" fill="#3c3c3c" stroke="#3c3c3c" stroke-width="0.40">0</text></g>
<g transform="translate(760.50,760.75)"><text font-size="23.00" text-anchor="end" letter-spacing="-0.60" fill="#3c3c3c" stroke="#3c3c3c" stroke-width="0.40">5</text></g>
<g transform="translate(760.50,604.50)"><text font-size="23.00" text-anchor="end" letter-spacing="-0.60" fill="#3c3c3c" stroke="#3c3c3c" stroke-width="0.40">10</text><rect x="-23.84" y="-2.72" width="4.68" height="4.52" fill="#fff"/><rect x="-16.02" y="-2.72" width="4.50" height="4.52" fill="#fff"/></g>
<g transform="translate(1024.50,976.30)"><text font-size="26.50" text-anchor="middle" letter-spacing="0.45" fill="#3c3c3c" stroke="#3c3c3c" stroke-width="0.40">Voltage (V)</text></g>
<g transform="translate(718.00,724.40) rotate(-90)"><text font-size="26.50" text-anchor="middle" letter-spacing="0.24" fill="#3c3c3c" stroke="#3c3c3c" stroke-width="0.40">Nonrad. current density (A/cm<tspan font-size="16" dy="-13.5">2</tspan><tspan dy="13.5">)</tspan></text></g>
<g transform="translate(793.50,579.40)"><text font-size="26.00" letter-spacing="0.30" fill="#3c3c3c" stroke="#3c3c3c" stroke-width="0.40">(d)</text></g>
<g transform="translate(910.00,578.60)"><text font-size="25.50" font-weight="bold" font-style="italic" fill="#111" stroke="#111" stroke-width="0.15">J</text></g>
<g transform="translate(923.50,584.80)"><text font-size="16.00" font-weight="bold" letter-spacing="0.90" fill="#333" stroke="#333" stroke-width="0.15">nonrad</text></g>
<g transform="translate(988.50,579.50)"><text font-size="25.00" font-weight="bold" fill="#111" stroke="#111" stroke-width="0.15">=</text></g>
<g transform="translate(1011.25,579.70)"><text font-size="25.00" font-weight="bold" letter-spacing="0.45" fill="#111" stroke="#111" stroke-width="0.15">(1 - IQE)</text><rect x="9.14" y="-3.43" width="5.04" height="5.23" fill="#fff"/><rect x="18.46" y="-3.43" width="4.72" height="5.23" fill="#fff"/><rect x="60.91" y="0.22" width="10.99" height="5.62" fill="#fff"/><path d="M66.58,-5.38L73.45,0.88" stroke="#111" stroke-width="3.12"/></g>
<g transform="translate(1112.00,579.50)"><text font-size="25.00" font-weight="bold" fill="#111" stroke="#111" stroke-width="0.15">·</text></g>
<g transform="translate(1122.40,579.20)"><text font-size="25.50" font-weight="bold" font-style="italic" fill="#111" stroke="#111" stroke-width="0.15">J</text></g>
<g transform="translate(1136.20,584.60)"><text font-size="15.50" font-weight="bold" fill="#111" stroke="#111" stroke-width="0.15">F</text></g>
<path d="M1096,840.5H1149.5" stroke="#5264b8" stroke-width="1.9"/>
<path d="M1096,869.5H1149.5" stroke="#2e8e55" stroke-width="1.9"/>
<g transform="translate(1156.00,848.30)"><text font-size="22.75" letter-spacing="0.50" fill="#5264b8" stroke="#5264b8" stroke-width="0.40">sample 1</text><rect x="83.69" y="-2.70" width="4.64" height="4.50" fill="#fff"/><rect x="91.44" y="-2.70" width="4.46" height="4.50" fill="#fff"/></g>
<g transform="translate(1156.00,877.30)"><text font-size="22.75" letter-spacing="0.50" fill="#2e8e55" stroke="#2e8e55" stroke-width="0.40">sample 2</text></g>
</svg>
</body></html>
